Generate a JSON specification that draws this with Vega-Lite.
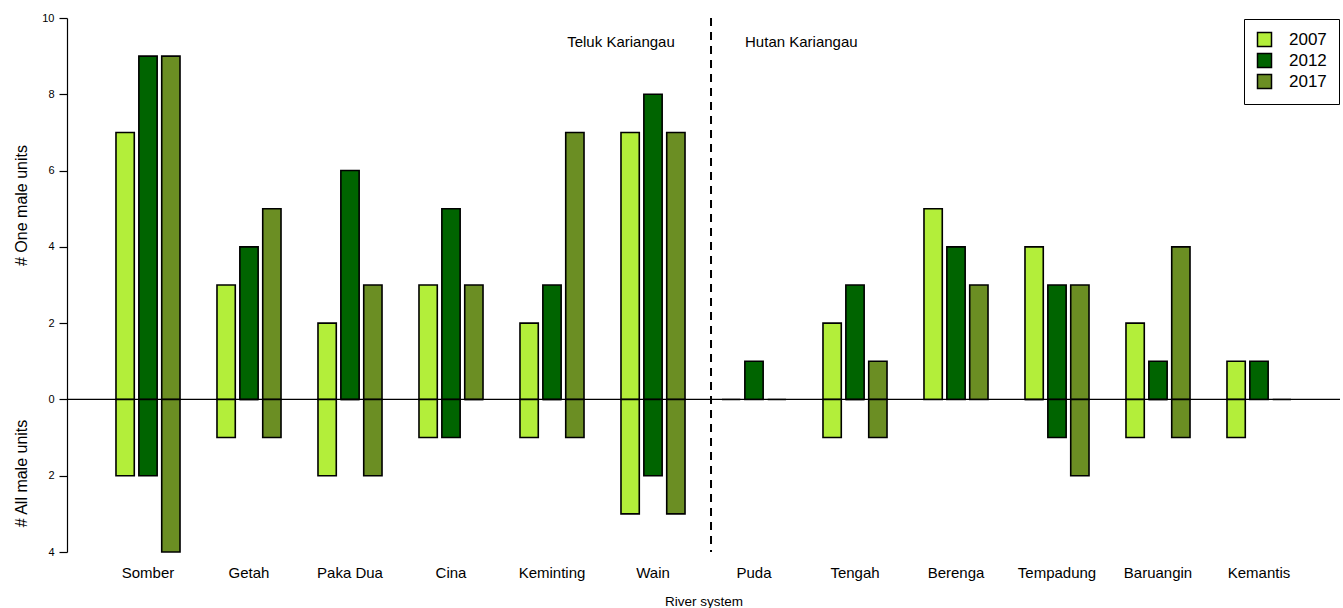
{
  "$schema": "https://vega.github.io/schema/vega-lite/v6.json",
  "width": 1273,
  "height": 534,
  "autosize": "none",
  "padding": {"left": 67, "top": 18, "right": 3, "bottom": 56},
  "background": "white",
  "config": {
    "view": {"stroke": null},
    "font": "Liberation Sans",
    "axis": {"grid": false, "labelColor": "#000000", "titleColor": "#000000", "titleFontWeight": "normal"}
  },
  "datasets": {
    "bars": [
      {"river": "Somber", "year": "2007", "type": "one", "value": 7},
      {"river": "Somber", "year": "2012", "type": "one", "value": 9},
      {"river": "Somber", "year": "2017", "type": "one", "value": 9},
      {"river": "Somber", "year": "2007", "type": "all", "value": -2},
      {"river": "Somber", "year": "2012", "type": "all", "value": -2},
      {"river": "Somber", "year": "2017", "type": "all", "value": -4},
      {"river": "Getah", "year": "2007", "type": "one", "value": 3},
      {"river": "Getah", "year": "2012", "type": "one", "value": 4},
      {"river": "Getah", "year": "2017", "type": "one", "value": 5},
      {"river": "Getah", "year": "2007", "type": "all", "value": -1},
      {"river": "Getah", "year": "2012", "type": "all", "value": 0},
      {"river": "Getah", "year": "2017", "type": "all", "value": -1},
      {"river": "Paka Dua", "year": "2007", "type": "one", "value": 2},
      {"river": "Paka Dua", "year": "2012", "type": "one", "value": 6},
      {"river": "Paka Dua", "year": "2017", "type": "one", "value": 3},
      {"river": "Paka Dua", "year": "2007", "type": "all", "value": -2},
      {"river": "Paka Dua", "year": "2012", "type": "all", "value": 0},
      {"river": "Paka Dua", "year": "2017", "type": "all", "value": -2},
      {"river": "Cina", "year": "2007", "type": "one", "value": 3},
      {"river": "Cina", "year": "2012", "type": "one", "value": 5},
      {"river": "Cina", "year": "2017", "type": "one", "value": 3},
      {"river": "Cina", "year": "2007", "type": "all", "value": -1},
      {"river": "Cina", "year": "2012", "type": "all", "value": -1},
      {"river": "Cina", "year": "2017", "type": "all", "value": 0},
      {"river": "Keminting", "year": "2007", "type": "one", "value": 2},
      {"river": "Keminting", "year": "2012", "type": "one", "value": 3},
      {"river": "Keminting", "year": "2017", "type": "one", "value": 7},
      {"river": "Keminting", "year": "2007", "type": "all", "value": -1},
      {"river": "Keminting", "year": "2012", "type": "all", "value": 0},
      {"river": "Keminting", "year": "2017", "type": "all", "value": -1},
      {"river": "Wain", "year": "2007", "type": "one", "value": 7},
      {"river": "Wain", "year": "2012", "type": "one", "value": 8},
      {"river": "Wain", "year": "2017", "type": "one", "value": 7},
      {"river": "Wain", "year": "2007", "type": "all", "value": -3},
      {"river": "Wain", "year": "2012", "type": "all", "value": -2},
      {"river": "Wain", "year": "2017", "type": "all", "value": -3},
      {"river": "Puda", "year": "2007", "type": "one", "value": 0},
      {"river": "Puda", "year": "2012", "type": "one", "value": 1},
      {"river": "Puda", "year": "2017", "type": "one", "value": 0},
      {"river": "Tengah", "year": "2007", "type": "one", "value": 2},
      {"river": "Tengah", "year": "2012", "type": "one", "value": 3},
      {"river": "Tengah", "year": "2017", "type": "one", "value": 1},
      {"river": "Tengah", "year": "2007", "type": "all", "value": -1},
      {"river": "Tengah", "year": "2012", "type": "all", "value": 0},
      {"river": "Tengah", "year": "2017", "type": "all", "value": -1},
      {"river": "Berenga", "year": "2007", "type": "one", "value": 5},
      {"river": "Berenga", "year": "2012", "type": "one", "value": 4},
      {"river": "Berenga", "year": "2017", "type": "one", "value": 3},
      {"river": "Tempadung", "year": "2007", "type": "one", "value": 4},
      {"river": "Tempadung", "year": "2012", "type": "one", "value": 3},
      {"river": "Tempadung", "year": "2017", "type": "one", "value": 3},
      {"river": "Tempadung", "year": "2007", "type": "all", "value": 0},
      {"river": "Tempadung", "year": "2012", "type": "all", "value": -1},
      {"river": "Tempadung", "year": "2017", "type": "all", "value": -2},
      {"river": "Baruangin", "year": "2007", "type": "one", "value": 2},
      {"river": "Baruangin", "year": "2012", "type": "one", "value": 1},
      {"river": "Baruangin", "year": "2017", "type": "one", "value": 4},
      {"river": "Baruangin", "year": "2007", "type": "all", "value": -1},
      {"river": "Baruangin", "year": "2012", "type": "all", "value": 0},
      {"river": "Baruangin", "year": "2017", "type": "all", "value": -1},
      {"river": "Kemantis", "year": "2007", "type": "one", "value": 1},
      {"river": "Kemantis", "year": "2012", "type": "one", "value": 1},
      {"river": "Kemantis", "year": "2017", "type": "one", "value": 0},
      {"river": "Kemantis", "year": "2007", "type": "all", "value": -1}
    ],
    "notes": [
      {"river": "Wain", "label": "Teluk Kariangau", "y": 9.38},
      {"river": "Puda", "label": "Hutan Kariangau", "y": 9.38}
    ],
    "zero": [
      {"y": 0}
    ]
  },
  "layer": [
    {
      "data": {"name": "bars"},
      "mark": {"type": "bar", "stroke": "#000000", "strokeWidth": 1.6},
      "encoding": {
        "x": {
          "field": "river", "type": "nominal", "sort": null,
          "scale": {"paddingInner": 0.366, "paddingOuter": 0.485},
          "axis": {"title": "River system", "labelAngle": 0, "labelFontSize": 15, "labelPadding": 13, "domain": false, "ticks": false, "titleFontSize": 13.5, "titlePadding": 14}
        },
        "xOffset": {"field": "year", "type": "nominal", "scale": {"paddingInner": 0.2, "paddingOuter": 0}},
        "y": {
          "field": "value", "type": "quantitative", "stack": null,
          "scale": {"domain": [-4, 10], "nice": false},
          "axis": {
            "orient": "left",
            "values": [-4, -2, 0, 2, 4, 6, 8, 10],
            "labelExpr": "abs(datum.value)",
            "labelFontSize": 11, "labelPadding": 5, "tickSize": 8,
            "domainColor": "#000000", "tickColor": "#000000", "domainWidth": 1.2, "tickWidth": 1.2,
            "title": "# One male units", "titleFontSize": 16, "titleAngle": 270,
            "titleAlign": "center", "titleBaseline": "alphabetic", "titleX": -41, "titleY": 187
          }
        },
        "fill": {
          "field": "year", "type": "nominal",
          "scale": {"domain": ["2007", "2012", "2017"], "range": ["#B3EE3A", "#006400", "#6B8E23"]},
          "legend": {
            "title": null, "orient": "top-right", "offset": 1,
            "fillColor": "#ffffff", "strokeColor": "#000000", "padding": 12,
            "symbolType": "square", "symbolSize": 196, "symbolStrokeColor": "#000000", "symbolStrokeWidth": 1.5,
            "labelFontSize": 17, "labelOffset": 16, "rowPadding": 0, "labelColor": "#000000"
          }
        }
      }
    },
    {
      "data": {"name": "zero"},
      "mark": {"type": "rule", "color": "#000000", "strokeWidth": 1.2},
      "encoding": {
        "y": {
          "field": "y", "type": "quantitative",
          "axis": {
            "orient": "left", "labels": false, "ticks": false, "domain": false,
            "title": "# All male units", "titleFontSize": 16, "titleAngle": 270, "titleFontWeight": "normal", "titleColor": "#000000",
            "titleAlign": "center", "titleBaseline": "alphabetic", "titleX": -41, "titleY": 455
          }
        }
      }
    },
    {
      "data": {"name": "notes"},
      "transform": [{"filter": "datum.river == 'Wain'"}],
      "mark": {"type": "rule", "color": "#000000", "strokeWidth": 2, "strokeDash": [8, 6]},
      "encoding": {
        "x": {"field": "river", "type": "nominal", "sort": null, "bandPosition": 1.406, "axis": {"title": "River system"}}
      }
    },
    {
      "data": {"name": "notes"},
      "transform": [{"filter": "datum.river == 'Wain'"}],
      "mark": {"type": "text", "align": "right", "baseline": "middle", "fontSize": 15, "color": "#000000"},
      "encoding": {
        "x": {"field": "river", "type": "nominal", "sort": null, "bandPosition": 0.84, "axis": {"title": "River system"}},
        "y": {"field": "y", "type": "quantitative", "axis": null},
        "text": {"field": "label"}
      }
    },
    {
      "data": {"name": "notes"},
      "transform": [{"filter": "datum.river == 'Puda'"}],
      "mark": {"type": "text", "align": "left", "baseline": "middle", "fontSize": 15, "color": "#000000"},
      "encoding": {
        "x": {"field": "river", "type": "nominal", "sort": null, "bandPosition": 0.36, "axis": {"title": "River system"}},
        "y": {"field": "y", "type": "quantitative", "axis": null},
        "text": {"field": "label"}
      }
    }
  ],
  "resolve": {"axis": {"y": "independent"}}
}
